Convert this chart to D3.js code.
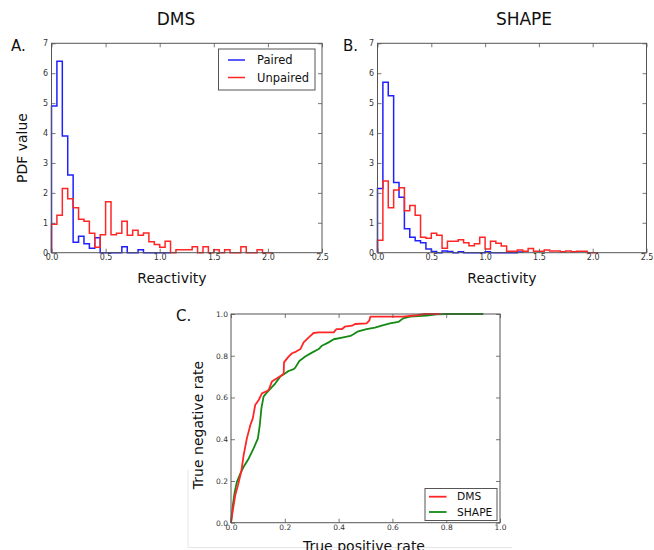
<!DOCTYPE html>
<html>
<head>
<meta charset="utf-8">
<script src="https://cdn.jsdelivr.net/npm/d3@7"></script>
<style>
  html, body { margin: 0; padding: 0; background: #fff; }
  svg { display: block; }
  text { font-family: "DejaVu Sans", sans-serif; }
</style>
</head>
<body>
<script>
// Histogram bins: every series starts at 0 and uses the same bin width.
const binWidth = 0.05;

// DMS reactivity densities (PDF value per bin)
const dmsPaired = [4.9, 6.4, 3.9, 2.6, 0.35, 0.55, 0.3, 0.15, 0.5, 0, 0, 0, 0, 0.2, 0, 0, 0.1, 0, 0, 0, 0, 0];
const dmsUnpaired = [0.95, 1.25, 2.15, 1.8, 1.5, 1.12, 1.05, 0.65, 0.18, 0.6,
  1.7, 0.6, 0.65, 1.05, 0.58, 0.75, 0.58, 0.66, 0.37, 0.27,
  0.18, 0.38, 0, 0.1, 0.1, 0.1, 0.2, 0, 0.2, 0,
  0.1, 0, 0.1, 0, 0, 0.2, 0, 0, 0.1, 0, 0];

// SHAPE reactivity densities
const shapePaired = [2.15, 5.7, 5.25, 2.35, 1.85, 0.8, 0.52, 0.4, 0.33, 0.12,
  0.04, 0, 0.06, 0.04, 0, 0.03, 0, 0, 0, 0,
  0.03, 0, 0, 0, 0, 0, 0.02];
const shapeUnpaired = [0.42, 2.4, 1.5, 2.1, 2.17, 1.4, 1.58, 1.25, 0.52, 0.48,
  0.65, 0.58, 0.15, 0.38, 0.38, 0.43, 0.33, 0.23, 0.3, 0.52,
  0.12, 0.38, 0.32, 0.22, 0.05, 0.05, 0.09, 0.05, 0.14, 0.05,
  0.05, 0.09, 0.06, 0.06, 0.03, 0.06, 0.03, 0.05, 0.05, 0, 0];

// ROC curves: [true positive rate, true negative rate]
const rocDMS = [[0, 0], [0.006, 0.053], [0.016, 0.133], [0.026, 0.18], [0.038, 0.244],
  [0.047, 0.324], [0.059, 0.404], [0.072, 0.468], [0.081, 0.5], [0.09, 0.564],
  [0.103, 0.588], [0.115, 0.62], [0.134, 0.631], [0.14, 0.636], [0.152, 0.676],
  [0.171, 0.692], [0.19, 0.708], [0.196, 0.716], [0.197, 0.768], [0.214, 0.796],
  [0.227, 0.812], [0.242, 0.82], [0.258, 0.832], [0.27, 0.864], [0.289, 0.888],
  [0.307, 0.909], [0.326, 0.912], [0.382, 0.912], [0.392, 0.928], [0.413, 0.928],
  [0.423, 0.939], [0.45, 0.944], [0.461, 0.952], [0.504, 0.955], [0.514, 0.968],
  [0.518, 0.987], [0.64, 0.987], [0.69, 0.994], [0.72, 1.0], [0.78, 1.0]];
const rocSHAPE = [[0, 0], [0.007, 0.085], [0.014, 0.149], [0.022, 0.196], [0.035, 0.236],
  [0.047, 0.268], [0.066, 0.308], [0.084, 0.356], [0.1, 0.404], [0.107, 0.468],
  [0.113, 0.548], [0.121, 0.604], [0.134, 0.625], [0.146, 0.641], [0.165, 0.668],
  [0.183, 0.7], [0.202, 0.716], [0.214, 0.727], [0.233, 0.736], [0.239, 0.743],
  [0.254, 0.775], [0.276, 0.796], [0.301, 0.815], [0.326, 0.832], [0.338, 0.848],
  [0.363, 0.864], [0.382, 0.879], [0.413, 0.887], [0.444, 0.895], [0.455, 0.903],
  [0.473, 0.917], [0.504, 0.927], [0.535, 0.935], [0.56, 0.944], [0.591, 0.955],
  [0.622, 0.962], [0.64, 0.979], [0.665, 0.987], [0.727, 0.992], [0.765, 0.998],
  [0.8, 1.0], [0.938, 1.0]];

// Axis ticks
const histXTicks = [0, 0.5, 1.0, 1.5, 2.0, 2.5];
const histYTicks = [0, 1, 2, 3, 4, 5, 6, 7];
const rocTicks = [0, 0.2, 0.4, 0.6, 0.8, 1.0];

const COLORS = { paired: "#2020ff", unpaired: "#ff2626", dms: "#ff2626", shape: "#138a13" };
const FRAME = "#555";

const svg = d3.select("body").append("svg")
  .attr("width", 654).attr("height", 550);
svg.append("rect").attr("width", 654).attr("height", 550).attr("fill", "#fff");

// Axis frame with inward ticks on all four sides
function drawFrame(g, x, y, xTicks, yTicks, fmtX, fmtY, fontSize, xPad, yPad) {
  const [x0, x1] = x.range();
  const [y0, y1] = y.range();
  const bottom = g.append("g").attr("transform", `translate(0,${y0})`)
    .call(d3.axisBottom(x).tickValues(xTicks).tickSize(-4).tickPadding(xPad).tickFormat(fmtX));
  const left = g.append("g").attr("transform", `translate(${x0},0)`)
    .call(d3.axisLeft(y).tickValues(yTicks).tickSize(-4).tickPadding(yPad).tickFormat(fmtY));
  const top = g.append("g").attr("transform", `translate(0,${y1})`)
    .call(d3.axisTop(x).tickValues(xTicks).tickSize(-4).tickFormat(""));
  const right = g.append("g").attr("transform", `translate(${x1},0)`)
    .call(d3.axisRight(y).tickValues(yTicks).tickSize(-4).tickFormat(""));
  [bottom, left, top, right].forEach(a => {
    a.select(".domain").remove();
    a.selectAll(".tick line").attr("stroke", FRAME).attr("stroke-width", 0.8);
    a.selectAll("text").attr("font-size", fontSize).attr("fill", "#333")
      .attr("font-family", "DejaVu Sans, sans-serif");
  });
  g.append("rect")
    .attr("x", x0).attr("y", y1)
    .attr("width", x1 - x0).attr("height", y0 - y1)
    .attr("fill", "none").attr("stroke", FRAME).attr("stroke-width", 1);
}

// Step outline of a histogram
function stepPoints(vals) {
  const pts = [[0, 0]];
  vals.forEach((v, i) => pts.push([i * binWidth, v]));
  pts.push([vals.length * binWidth, 0]);
  return pts;
}

function histPanel(opts) {
  const x = d3.scaleLinear().domain([0, 2.5]).range([opts.left, opts.right]);
  const y = d3.scaleLinear().domain([0, 7]).range([252.7, 43.3]);
  const g = svg.append("g");
  const line = d3.line().x(d => x(d[0])).y(d => y(d[1])).curve(d3.curveStepAfter);
  g.append("path").attr("d", line(stepPoints(opts.paired)))
    .attr("fill", "none").attr("stroke", COLORS.paired).attr("stroke-width", 1.5);
  g.append("path").attr("d", line(stepPoints(opts.unpaired)))
    .attr("fill", "none").attr("stroke", COLORS.unpaired).attr("stroke-width", 1.5);
  drawFrame(g, x, y, histXTicks, histYTicks, d3.format(".1f"), d3.format("d"), 8, 2, 3.5);
  svg.append("text").attr("x", opts.titleX).attr("y", 25)
    .attr("text-anchor", "middle").attr("font-size", 17).attr("fill", "#111").text(opts.title);
  svg.append("text").attr("x", opts.letterX).attr("y", 51)
    .attr("font-size", 15).attr("fill", "#111").text(opts.letter);
  svg.append("text").attr("x", opts.xLabelX).attr("y", 283)
    .attr("text-anchor", "middle").attr("font-size", 14).attr("fill", "#111").text("Reactivity");
  return { x, y, g };
}

const A = histPanel({ left: 51.5, right: 322, paired: dmsPaired, unpaired: dmsUnpaired,
  title: "DMS", titleX: 176, letter: "A.", letterX: 11, xLabelX: 172 });
histPanel({ left: 377.5, right: 646.5, paired: shapePaired, unpaired: shapeUnpaired,
  title: "SHAPE", titleX: 524, letter: "B.", letterX: 343, xLabelX: 502 });

svg.append("text")
  .attr("transform", "translate(27,148) rotate(-90)")
  .attr("text-anchor", "middle").attr("font-size", 14).attr("fill", "#111").text("PDF value");

// Legend for the histograms
const legA = svg.append("g");
legA.append("rect").attr("x", 218.5).attr("y", 49).attr("width", 96.5).attr("height", 41)
  .attr("fill", "#fff").attr("stroke", FRAME).attr("stroke-width", 1);
[["Paired", COLORS.paired, 60], ["Unpaired", COLORS.unpaired, 77.5]].forEach(([label, c, yy]) => {
  legA.append("line").attr("x1", 228).attr("x2", 245).attr("y1", yy).attr("y2", yy)
    .attr("stroke", c).attr("stroke-width", 1.5);
  legA.append("text").attr("x", 257).attr("y", yy + 4).attr("font-size", 11.5)
    .attr("fill", "#111").text(label);
});

// ROC panel
const cx = d3.scaleLinear().domain([0, 1]).range([231, 500]);
const cy = d3.scaleLinear().domain([0, 1]).range([522.7, 314]);
const gC = svg.append("g");

// light outline of the lower panel
svg.append("path").attr("d", "M188,470V547.5H512")
  .attr("fill", "none").attr("stroke", "#e6e6e6").attr("stroke-width", 1);

const rocLine = d3.line().x(d => cx(d[0])).y(d => cy(d[1]));
gC.append("path").attr("d", rocLine(rocSHAPE)).attr("fill", "none")
  .attr("stroke", COLORS.shape).attr("stroke-width", 1.8).attr("stroke-linejoin", "round");
gC.append("path").attr("d", rocLine(rocDMS)).attr("fill", "none")
  .attr("stroke", COLORS.dms).attr("stroke-width", 1.8).attr("stroke-linejoin", "round");
drawFrame(gC, cx, cy, rocTicks, rocTicks, d3.format(".1f"), d3.format(".1f"), 7.5, 2, 3);

svg.append("text").attr("x", 176).attr("y", 321)
  .attr("font-size", 15).attr("fill", "#111").text("C.");
svg.append("text")
  .attr("transform", "translate(203,425) rotate(-90)")
  .attr("text-anchor", "middle").attr("font-size", 14).attr("fill", "#111").text("True negative rate");
svg.append("text").attr("x", 364).attr("y", 551)
  .attr("text-anchor", "middle").attr("font-size", 14).attr("fill", "#111").text("True positive rate");

const legC = svg.append("g");
legC.append("rect").attr("x", 425).attr("y", 488.5).attr("width", 72).attr("height", 32)
  .attr("fill", "#fff").attr("stroke", FRAME).attr("stroke-width", 1);
[["DMS", COLORS.dms, 496.7], ["SHAPE", COLORS.shape, 512]].forEach(([label, c, yy]) => {
  legC.append("line").attr("x1", 429).attr("x2", 446.5).attr("y1", yy).attr("y2", yy)
    .attr("stroke", c).attr("stroke-width", 1.8);
  legC.append("text").attr("x", 457).attr("y", yy + 3.7).attr("font-size", 10.7)
    .attr("fill", "#111").text(label);
});
</script>
</body>
</html>
